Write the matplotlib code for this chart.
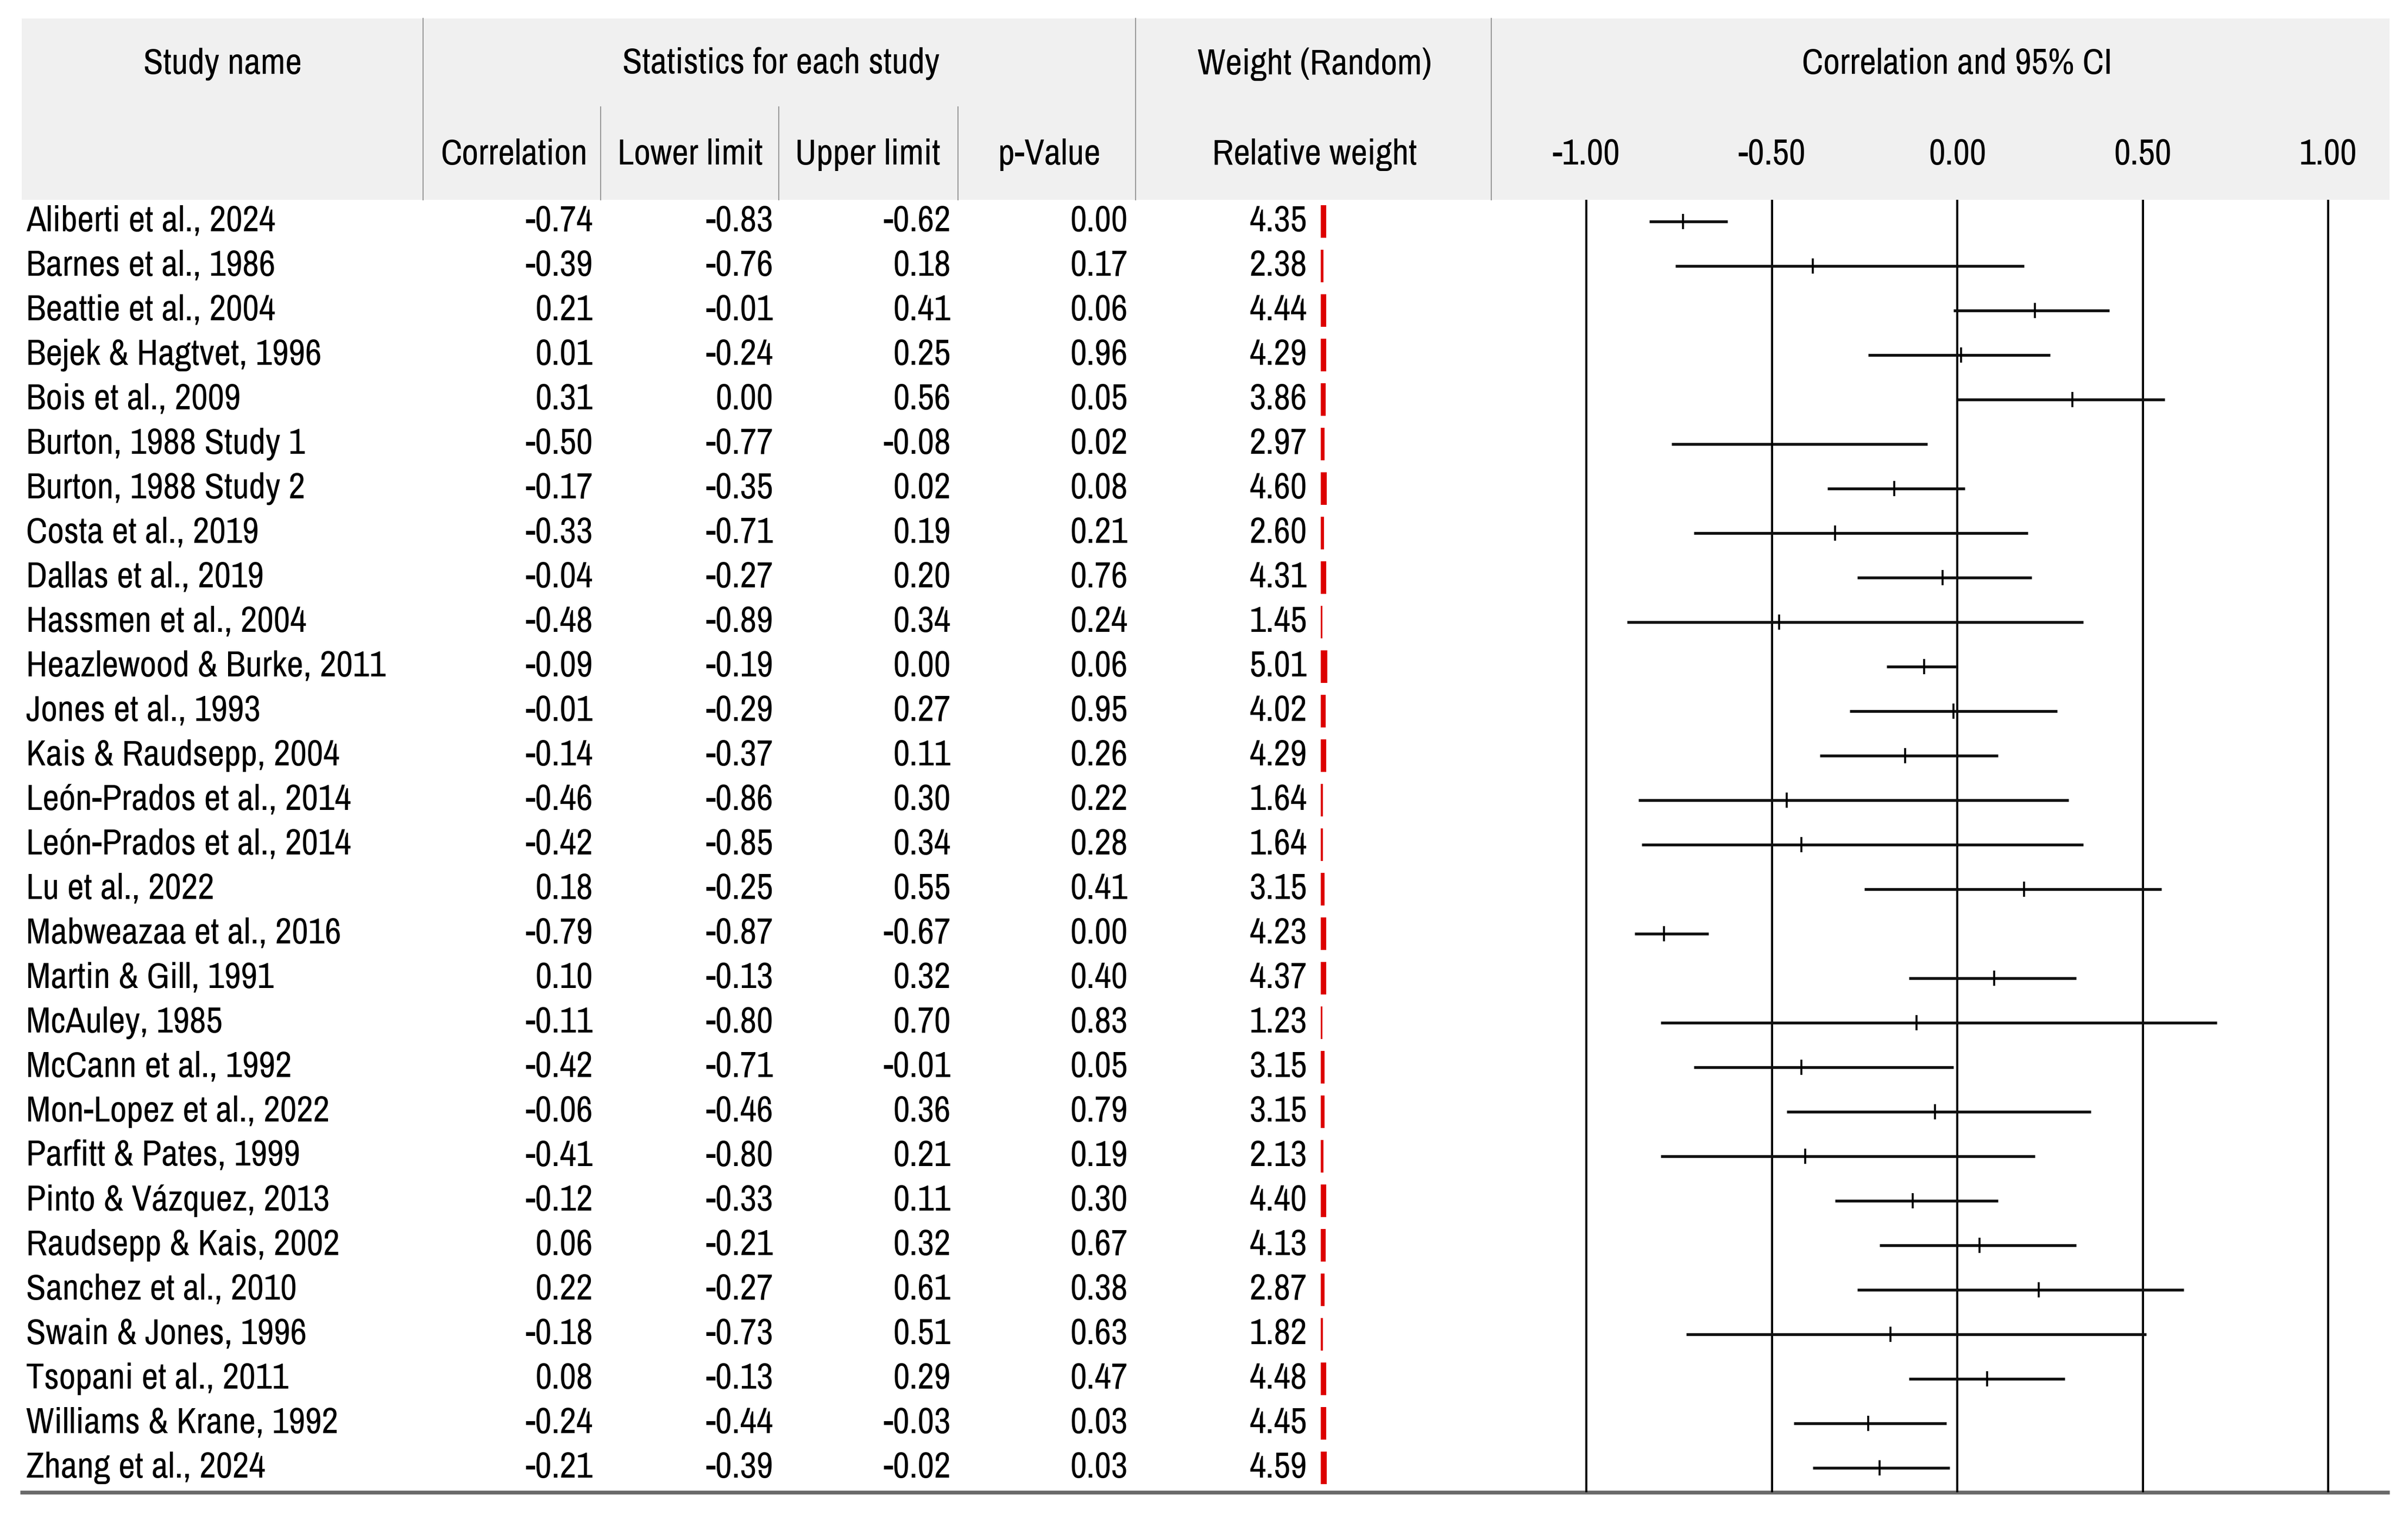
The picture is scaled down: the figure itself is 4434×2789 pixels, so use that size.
# Forest plot of correlations (CMA style table)
import matplotlib
matplotlib.use("Agg")
import matplotlib.pyplot as plt
from matplotlib import font_manager
from matplotlib.patches import Rectangle

W, H = 4434, 2789
DPI = 100

# narrow sans to match the squeezed table font; fall back to a smaller regular sans
try:
    font_manager.findfont('Archivo Narrow', fallback_to_default=False)
    FONT, FS = ['Archivo Narrow', 'DejaVu Sans'], 48
except Exception:
    FONT, FS = ['Liberation Sans', 'DejaVu Sans'], 39

studies = [
    "Aliberti et al., 2024", "Barnes et al., 1986", "Beattie et al., 2004",
    "Bejek & Hagtvet, 1996", "Bois et al., 2009", "Burton, 1988 Study 1",
    "Burton, 1988 Study 2", "Costa et al., 2019", "Dallas et al., 2019",
    "Hassmen et al., 2004", "Heazlewood & Burke, 2011", "Jones et al., 1993",
    "Kais & Raudsepp, 2004", "León-Prados et al., 2014", "León-Prados et al., 2014",
    "Lu et al., 2022", "Mabweazaa et al., 2016", "Martin & Gill, 1991",
    "McAuley, 1985", "McCann et al., 1992", "Mon-Lopez et al., 2022",
    "Parfitt & Pates, 1999", "Pinto & Vázquez, 2013", "Raudsepp & Kais, 2002",
    "Sanchez et al., 2010", "Swain & Jones, 1996", "Tsopani et al., 2011",
    "Williams & Krane, 1992", "Zhang et al., 2024",
]
corr = [-0.74, -0.39, 0.21, 0.01, 0.31, -0.50, -0.17, -0.33, -0.04, -0.48,
        -0.09, -0.01, -0.14, -0.46, -0.42, 0.18, -0.79, 0.10, -0.11, -0.42,
        -0.06, -0.41, -0.12, 0.06, 0.22, -0.18, 0.08, -0.24, -0.21]
lower = [-0.83, -0.76, -0.01, -0.24, 0.00, -0.77, -0.35, -0.71, -0.27, -0.89,
         -0.19, -0.29, -0.37, -0.86, -0.85, -0.25, -0.87, -0.13, -0.80, -0.71,
         -0.46, -0.80, -0.33, -0.21, -0.27, -0.73, -0.13, -0.44, -0.39]
upper = [-0.62, 0.18, 0.41, 0.25, 0.56, -0.08, 0.02, 0.19, 0.20, 0.34,
         0.00, 0.27, 0.11, 0.30, 0.34, 0.55, -0.67, 0.32, 0.70, -0.01,
         0.36, 0.21, 0.11, 0.32, 0.61, 0.51, 0.29, -0.03, -0.02]
pvalue = [0.00, 0.17, 0.06, 0.96, 0.05, 0.02, 0.08, 0.21, 0.76, 0.24,
          0.06, 0.95, 0.26, 0.22, 0.28, 0.41, 0.00, 0.40, 0.83, 0.05,
          0.79, 0.19, 0.30, 0.67, 0.38, 0.63, 0.47, 0.03, 0.03]
weight = [4.35, 2.38, 4.44, 4.29, 3.86, 2.97, 4.60, 2.60, 4.31, 1.45,
          5.01, 4.02, 4.29, 1.64, 1.64, 3.15, 4.23, 4.37, 1.23, 3.15,
          3.15, 2.13, 4.40, 4.13, 2.87, 1.82, 4.48, 4.45, 4.59]
axis_ticks = [-1.0, -0.5, 0.0, 0.5, 1.0]

# ----------------------------------------------------------------------------
# layout (pixels, top-down)
ROW0, ROW_STEP = 408, 82
HEAD_TOP, HEAD_BOT = 34, 368
TABLE_L, TABLE_R = 40, 4400
BOTTOM = 2749

fig = plt.figure(figsize=(W / DPI, H / DPI), dpi=DPI)
ax = fig.add_axes([0, 0, 1, 1])
ax.set_xlim(0, W)
ax.set_ylim(H, 0)
ax.axis('off')

def txt(x, y, s, ha='center'):
    ax.text(x, y, s, ha=ha, va='center', fontsize=FS, family=FONT, color='black')

# header band
ax.add_patch(Rectangle((TABLE_L, HEAD_TOP), TABLE_R - TABLE_L, HEAD_BOT - HEAD_TOP,
                       facecolor='#f0f0f0', edgecolor='none', zorder=0))
for x in [779, 2091, 2746]:
    ax.plot([x, x], [HEAD_TOP, HEAD_BOT], color='#9a9a9a', lw=1.5)
for x in [1106, 1434, 1764]:
    ax.plot([x, x], [197, HEAD_BOT], color='#9a9a9a', lw=1.5)

txt(410, 118, "Study name")
txt(1438, 118, "Statistics for each study")
txt(2421, 118, "Weight (Random)")
txt(3604, 118, "Correlation and 95% CI")
txt(947, 285, "Correlation")
txt(1271, 285, "Lower limit")
txt(1598, 285, "Upper limit")
txt(1932, 285, "p-Value")
txt(2421, 285, "Relative weight")

# table body
col_right = [1092, 1424, 1751, 2077, 2407]
for i, name in enumerate(studies):
    y = ROW0 + ROW_STEP * i
    txt(48, y, name, ha='left')
    for x, v in zip(col_right, [corr[i], lower[i], upper[i], pvalue[i], weight[i]]):
        txt(x, y, f"{v:.2f}", ha='right')

rows = [ROW0 + ROW_STEP * i for i in range(len(studies))]
ax.barh(rows, [w * 2.3 for w in weight], left=2432, height=60,
        color='#dd0000', edgecolor='none')

# bottom rule
ax.plot([37, TABLE_R], [BOTTOM, BOTTOM], color='#6a6a6a', lw=5, solid_capstyle='butt')

# ----------------------------------------------------------------------------
# forest axes: -1 -> x=2921, +1 -> x=4287
X0, X1 = 2750, 4400
ZERO, HALF = 3604, 683
ax2 = fig.add_axes([X0 / W, (H - BOTTOM) / H, (X1 - X0) / W, (BOTTOM - HEAD_BOT) / H])
ax2.set_facecolor('none')
ax2.set_xlim((X0 - ZERO) / HALF, (X1 - ZERO) / HALF)
ax2.set_ylim((BOTTOM - ROW0) / ROW_STEP, (HEAD_BOT - ROW0) / ROW_STEP)
ax2.axis('off')

for t in axis_ticks:
    ax2.axvline(t, color='black', lw=2.8, zorder=1)
    ax2.text(t, 1 + (HEAD_BOT - 285) / (BOTTOM - HEAD_BOT), f"{t:.2f}",
             transform=ax2.get_xaxis_transform(), ha='center', va='center',
             fontsize=FS, family=FONT, color='black', clip_on=False)

idx = list(range(len(studies)))
ax2.hlines(idx, lower, upper, color='#111111', lw=3.8, zorder=2)
ax2.plot(corr, idx, ls='none', marker='|', ms=20, mew=2.6, color='black', zorder=3)

fig.savefig('out.png', dpi=DPI)
